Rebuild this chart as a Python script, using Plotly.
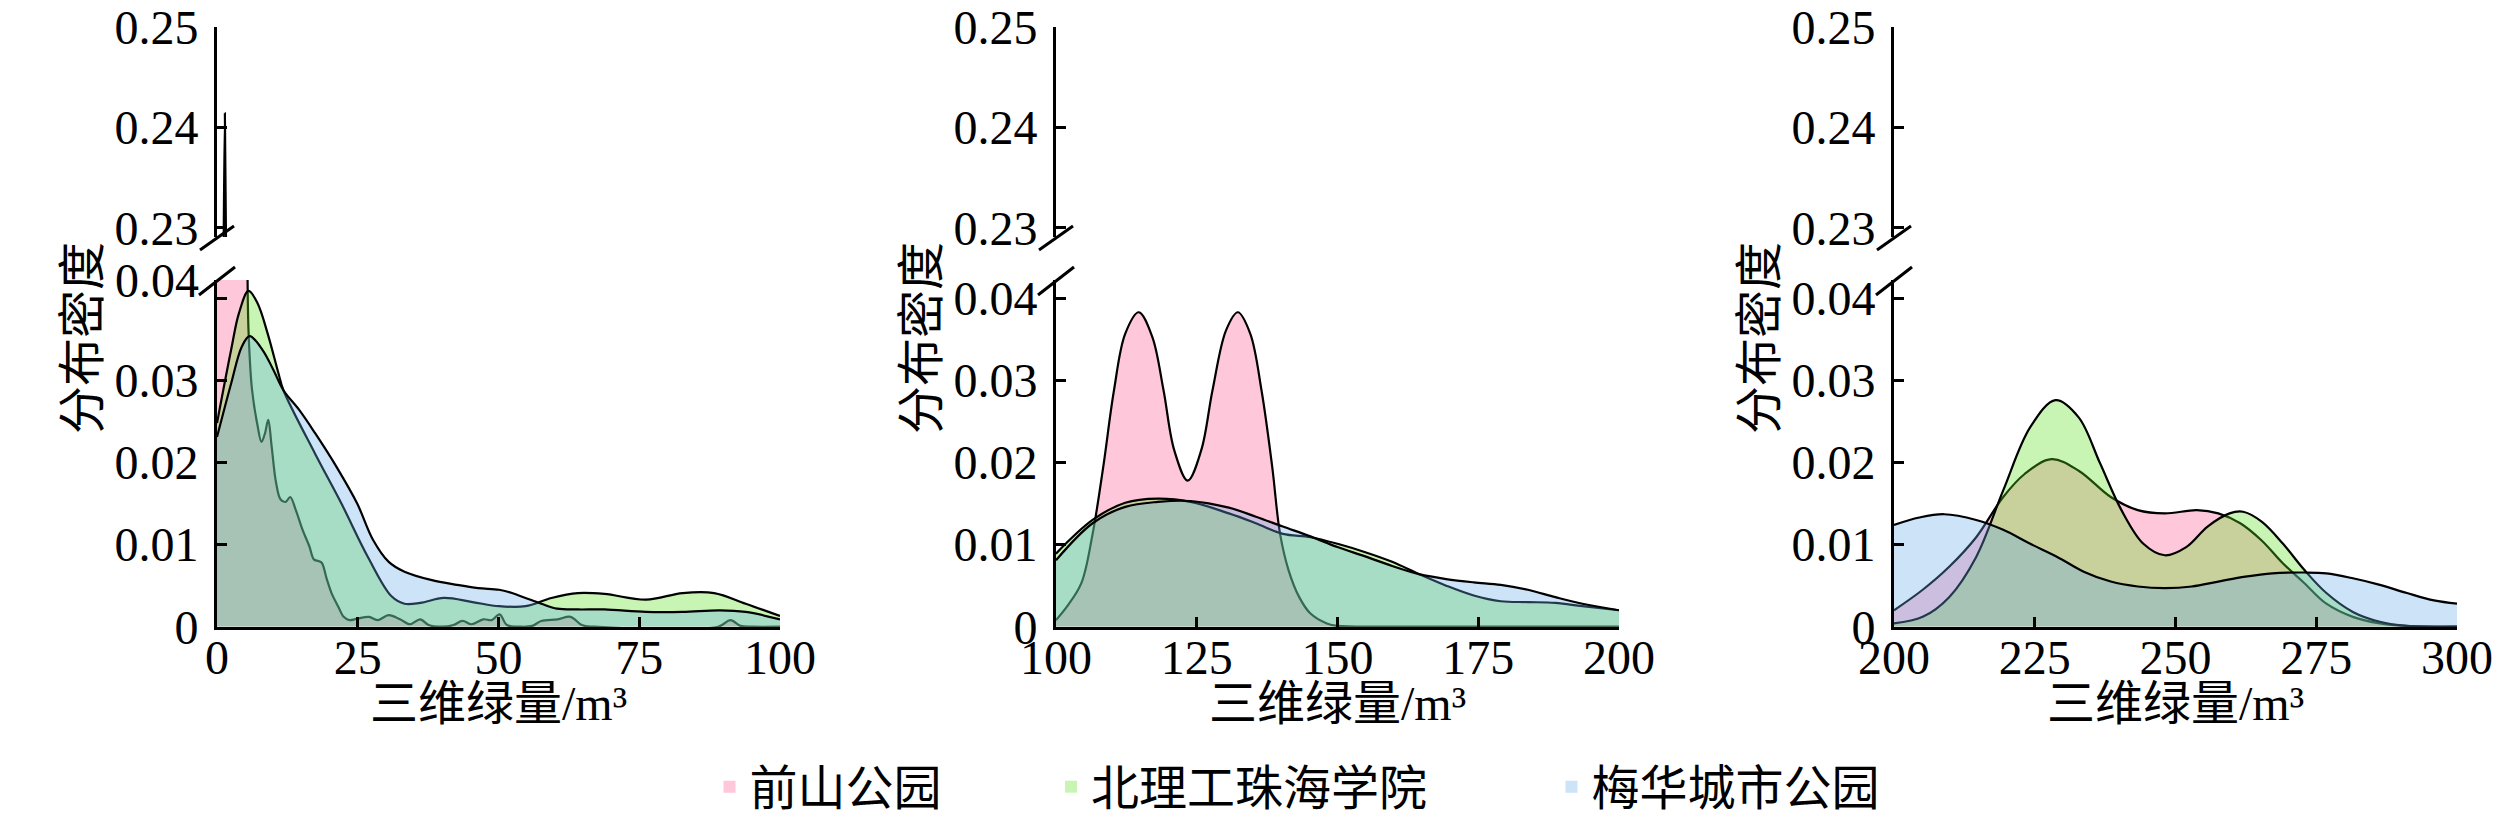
import plotly.graph_objects as go

W, H = 2520, 813

# ---------------- data ----------------
series_names = ["前山公园", "北理工珠海学院", "梅华城市公园"]
fill_colors = ["rgba(255,88,143,0.33)", "rgba(88,224,27,0.33)", "rgba(100,170,233,0.33)"]

x_ticks_1 = [0, 25, 50, 75, 100]
x_ticks_2 = [100, 125, 150, 175, 200]
x_ticks_3 = [200, 225, 250, 275, 300]
y_ticks_low = [0, 0.01, 0.02, 0.03, 0.04]
y_ticks_high = [0.23, 0.24, 0.25]

# panel 1 (0-100)
qs1_x = [0, 0.9, 1.15, 1.4, 1.65, 1.9, 3, 4.2, 5.2, 5.6, 6.2, 7.2, 7.9, 8.5, 9.1, 9.7, 10.5, 11.3,
         12.2, 13.0, 14.0, 15.2, 16.4, 17.2, 18.0, 18.6, 19.5, 20.4, 21.5, 22.5, 23.5, 25, 27, 28.5,
         30.5, 32.5, 34.3, 36.1, 37.6, 40, 42, 43.6, 45.2, 47.3, 48.8, 50.2, 51.5, 54, 56, 57.6,
         60.5, 62.8, 64.8, 67, 89, 91.2, 93, 95, 100]
qs1_y = [0.06, 0.12, 0.225, 0.2414, 0.225, 0.12, 0.075, 0.06, 0.05, 0.036, 0.029, 0.0245, 0.0225,
         0.0235, 0.0252, 0.022, 0.0175, 0.0155, 0.0152, 0.0158, 0.0142, 0.0118, 0.0098, 0.0082,
         0.008, 0.0078, 0.0058, 0.004, 0.0025, 0.0012, 0.0008, 0.001, 0.0012, 0.0008, 0.0014,
         0.0009, 0.0003, 0.0009, 0.0002, 0.0, 0.0002, 0.0007, 0.0003, 0.0009, 0.0008, 0.0015,
         0.0002, 0.0, 0.0001, 0.0007, 0.0009, 0.0012, 0.0002, 0.0, 0.0, 0.0008, 0.0001, 0.0, 0.0]
bl1_x = [0, 2.5, 3.9, 5.6, 7.2, 9.0, 10.9, 11.8, 17.4, 22.1, 26.8, 31.0, 33.3, 36.1, 40.3, 45.4,
         50.1, 54.8, 59.4, 64.1, 68.8, 76.2, 82.7, 88.3, 93.9, 100]
bl1_y = [0.0248, 0.0337, 0.0382, 0.0409, 0.0394, 0.0357, 0.0309, 0.0288, 0.0211, 0.015, 0.0085,
         0.0037, 0.0028, 0.0029, 0.0035, 0.003, 0.0025, 0.0025, 0.0035, 0.0041, 0.004, 0.0033,
         0.0041, 0.0041, 0.0028, 0.0013]
mh1_x = [0, 2.5, 4.4, 5.8, 8.1, 10.0, 11.8, 14.6, 17.4, 21.2, 24.9, 27.7, 30.5, 33.3, 38.0, 42.6,
         46.4, 50.1, 52.4, 54.8, 57.6, 60.4, 64.1, 68.8, 76.2, 82.7, 89.3, 93.9, 100]
mh1_y = [0.0231, 0.0296, 0.0341, 0.0354, 0.0337, 0.0313, 0.0288, 0.0264, 0.0236, 0.0195, 0.015,
         0.0106, 0.0079, 0.0067, 0.0057, 0.0051, 0.0047, 0.0045, 0.0041, 0.0035, 0.0028, 0.0022,
         0.0021, 0.0021, 0.0018, 0.0018, 0.002, 0.0018, 0.0009]

# panel 2 (100-200)
qs2_x = [100, 102, 104.5, 106.5, 108.4, 110.3, 112.3, 114.7, 117.1, 119.1, 121, 123.4, 125.8, 127.8,
         130.2, 132.3, 134.5, 136.5, 138.4, 139.8, 141.3, 143.2, 145.2, 148.1, 150, 160, 200]
qs2_y = [0.0008, 0.0025, 0.0053, 0.0113, 0.0195, 0.0288, 0.0357, 0.0383, 0.0353, 0.0288, 0.0215,
         0.0178, 0.0215, 0.0288, 0.0361, 0.0383, 0.0357, 0.0288, 0.0195, 0.0113, 0.0069, 0.0036,
         0.0016, 0.0004, 0.0001, 0.0, 0.0]
bl2_x = [100, 106.5, 112.3, 118.1, 123.9, 130.7, 135.5, 140.3, 145.2, 150, 154.8, 159.7, 164.5,
         169.3, 174.2, 179, 183.8, 188.7, 193.5, 200]
bl2_y = [0.0089, 0.013, 0.0151, 0.0156, 0.0152, 0.0138, 0.0126, 0.0113, 0.0109, 0.0101, 0.0091,
         0.0079, 0.0064, 0.005, 0.0038, 0.0031, 0.003, 0.0029, 0.0025, 0.002]
mh2_x = [100, 106.5, 112.3, 118.1, 123.9, 130.7, 135.5, 140.3, 145.2, 150, 154.8, 159.7, 164.5,
         169.3, 174.2, 179, 183.8, 188.7, 193.5, 200]
mh2_y = [0.0081, 0.0126, 0.0146, 0.0152, 0.0153, 0.0145, 0.0134, 0.0122, 0.011, 0.0097, 0.0086,
         0.0074, 0.0064, 0.0058, 0.0054, 0.0051, 0.0045, 0.0036, 0.0028, 0.002]

# panel 3 (200-300)
qs3_x = [200, 205.1, 209.8, 214.6, 219.4, 223.2, 228, 232.8, 238.5, 243.3, 248.1, 253.8, 257.6,
         261.5, 265.3, 269.1, 272.9, 276.8, 281.5, 286.3, 291, 300]
qs3_y = [0.002, 0.0045, 0.0073, 0.0109, 0.0158, 0.0186, 0.0204, 0.019, 0.0158, 0.0142, 0.0138,
         0.0142, 0.0138, 0.0126, 0.0105, 0.0077, 0.0053, 0.0028, 0.0012, 0.0004, 0.0001, 0.0]
bl3_x = [200, 205.1, 209.8, 214.6, 219.4, 224.2, 228.7, 232.8, 236.6, 240.4, 244.3, 248.1, 251.9,
         255.7, 259.6, 262, 265.3, 269.1, 272.9, 276.8, 281.5, 286.3, 291, 300]
bl3_y = [0.0004, 0.0012, 0.0036, 0.0085, 0.0166, 0.0243, 0.0276, 0.0255, 0.0199, 0.0142, 0.0101,
         0.0087, 0.0097, 0.0122, 0.0138, 0.014, 0.0128, 0.0101, 0.0069, 0.0041, 0.0018, 0.0006,
         0.0001, 0.0]
mh3_x = [200, 204.5, 208.9, 214.6, 219.4, 224.2, 229, 233.7, 238.5, 243.3, 248.1, 252.9, 257.6,
         262.4, 267.2, 272.9, 276.8, 281.5, 286.3, 291.1, 295.9, 300]
mh3_y = [0.0124, 0.0133, 0.0137, 0.013, 0.0118, 0.0101, 0.0085, 0.0067, 0.0055, 0.0049, 0.0047,
         0.0049, 0.0055, 0.0061, 0.0065, 0.0066, 0.0065, 0.0059, 0.0051, 0.0041, 0.0032, 0.0028]

panels = [
    dict(xr=[0, 100], ticks=x_ticks_1, series=[(qs1_x, qs1_y), (bl1_x, bl1_y), (mh1_x, mh1_y)]),
    dict(xr=[100, 200], ticks=x_ticks_2, series=[(qs2_x, qs2_y), (bl2_x, bl2_y), (mh2_x, mh2_y)]),
    dict(xr=[200, 300], ticks=x_ticks_3, series=[(qs3_x, qs3_y), (bl3_x, bl3_y), (mh3_x, mh3_y)]),
]

# ---------------- layout geometry (window pixels) ----------------
panel_px = [(217, 780), (1056, 1619), (1894, 2457)]
low_px = (280, 626.7)     # top, bottom
high_px = (26.7, 237)
OFF = 8                   # page body margin

def px_x(p):
    return (p - OFF) / W

def px_y(p):
    return 1 - (p - OFF) / H

NUM_FONT = "Liberation Serif, Times New Roman, serif"
CJK_FONT = "Liberation Serif, Noto Sans CJK SC, serif"
NUM_SIZE = 48

fig = go.Figure()
layout = {}
annotations = []
shapes = []

for i, pnl in enumerate(panels):
    lo = 2 * i + 1
    hi = 2 * i + 2
    xlo = "x" if lo == 1 else f"x{lo}"
    ylo = "y" if lo == 1 else f"y{lo}"
    xhi, yhi = f"x{hi}", f"y{hi}"
    for (sx, sy), col in zip(pnl["series"], fill_colors):
        for xa, ya in ((xlo, ylo), (xhi, yhi)):
            fig.add_trace(go.Scatter(
                x=sx, y=sy, xaxis=xa, yaxis=ya, mode="lines",
                line=dict(color="black", width=2.2, shape="spline", smoothing=1),
                fill="tozeroy", fillcolor=col, showlegend=False, hoverinfo="skip"))

    x0p, x1p = panel_px[i]
    dom = [px_x(x0p), px_x(x1p)]
    axline = dict(showline=True, linecolor="black", linewidth=3, showgrid=False, zeroline=False,
                  ticks="inside", ticklen=10, tickwidth=2.5, tickcolor="black", automargin=False,
                  ticklabeloverflow="allow",
                  tickfont=dict(family=NUM_FONT, size=NUM_SIZE, color="black"))
    key_xlo = "xaxis" if lo == 1 else f"xaxis{lo}"
    key_ylo = "yaxis" if lo == 1 else f"yaxis{lo}"
    layout[key_xlo] = dict(domain=dom, range=pnl["xr"], anchor=ylo, tickvals=pnl["ticks"],
                           ticklabelstandoff=-13, **axline)
    ytext = [str(v) if v != 0 else "0" for v in y_ticks_low]
    if i == 0:
        ytext[-1] = ""
    layout[key_ylo] = dict(domain=[px_y(low_px[1]), px_y(low_px[0])], range=[0, 0.04223],
                           anchor=xlo, tickvals=y_ticks_low, ticktext=ytext,
                           ticklabelstandoff=6, **axline)
    layout[f"xaxis{hi}"] = dict(domain=dom, range=pnl["xr"], anchor=yhi, visible=False,
                                automargin=False)
    layout[f"yaxis{hi}"] = dict(domain=[px_y(high_px[1]), px_y(high_px[0])], range=[0.2291, 0.25],
                                anchor=xhi, tickvals=y_ticks_high,
                                ticktext=[f"{v:.2f}" for v in y_ticks_high],
                                ticklabelstandoff=6, **axline)

    # x title
    annotations.append(dict(text="三维绿量/m³", x=px_x((x0p + x1p) / 2), y=px_y(703),
                            xref="paper", yref="paper", showarrow=False,
                            xanchor="center", yanchor="middle",
                            font=dict(family=CJK_FONT, size=48, color="black")))
    # y title
    annotations.append(dict(text="分布密度", x=px_x(x0p - 135), y=px_y(338), textangle=-90,
                            xref="paper", yref="paper", showarrow=False,
                            xanchor="center", yanchor="middle",
                            font=dict(family=CJK_FONT, size=48, color="black")))
    # axis-break marks
    for (cy, dx, dy) in ((238, 17, 12), (281, 18, 14)):
        shapes.append(dict(type="line", xref="paper", yref="paper",
                           x0=px_x(x0p - dx), y0=px_y(cy + dy), x1=px_x(x0p + dx), y1=px_y(cy - dy),
                           line=dict(color="black", width=3)))

# shifted 0.04 label of the first panel
annotations.append(dict(text="0.04", x=px_x(201), y=px_y(280), xref="paper", yref="paper",
                        showarrow=False, xanchor="right", yanchor="middle",
                        font=dict(family=NUM_FONT, size=NUM_SIZE, color="black")))

# legend entries
legend_icon_px = [729.5, 1071, 1571.5]
legend_keys = ["legend", "legend2", "legend3"]
for name, col, lk in zip(series_names, fill_colors, legend_keys):
    fig.add_trace(go.Bar(x=[None], y=[None], name=name, marker=dict(color=col, line=dict(width=0)),
                         legend=lk, showlegend=True, hoverinfo="skip"))
for lk, cx in zip(legend_keys, legend_icon_px):
    layout[lk] = dict(x=px_x(cx - 20), y=px_y(787), xanchor="left", yanchor="middle",
                      orientation="h", bgcolor="rgba(0,0,0,0)", borderwidth=0,
                      font=dict(family=CJK_FONT, size=48, color="black"))

fig.update_layout(
    width=W, height=H, autosize=False,
    margin=dict(l=0, r=0, t=0, b=0, pad=0, autoexpand=False),
    paper_bgcolor="white", plot_bgcolor="rgba(0,0,0,0)",
    annotations=annotations, shapes=shapes,
    **layout,
)

fig.write_html("out.html")
